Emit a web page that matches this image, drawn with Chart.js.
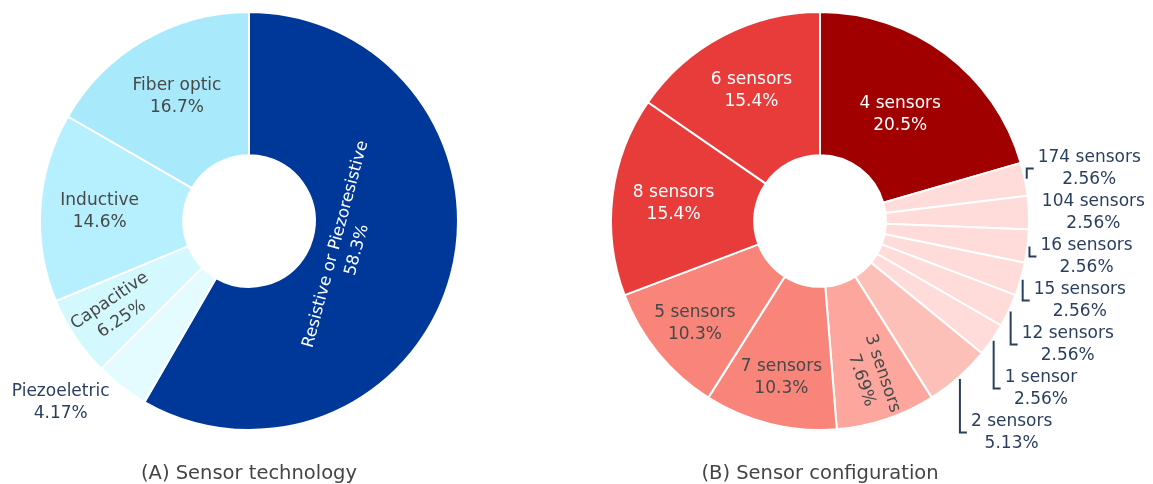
<!DOCTYPE html>
<html>
<head>
<meta charset="utf-8">
<script src="https://cdn.jsdelivr.net/npm/chart.js@4.4.1/dist/chart.umd.min.js"></script>
<style>
  html, body { margin: 0; padding: 0; background: #fff; }
  #wrap { position: relative; width: 1153px; height: 484px; overflow: hidden; }
  canvas { position: absolute; top: 0; }
  .caption {
    position: absolute; top: 461px; width: 400px; text-align: center;
    font: 19.5px "DejaVu Sans", Verdana, sans-serif; color: #444; line-height: 24px;
  }
</style>
</head>
<body>
<div id="wrap">
  <canvas id="techChart" width="576" height="484" style="left:0"></canvas>
  <canvas id="configChart" width="577" height="484" style="left:576px"></canvas>
  <div class="caption" style="left:49px">(A) Sensor technology</div>
  <div class="caption" style="left:620px">(B) Sensor configuration</div>
</div>
<script>
var techLabels = ['Resistive or Piezoresistive', 'Piezoeletric', 'Capacitive', 'Inductive', 'Fiber optic'];
var techCounts = [28, 2, 3, 7, 8];
var techColors = ['#00389a', '#e4fcff', '#d3f8fe', '#b6effd', '#a8eafc'];
var techText = ['tangential', 'outside', 'radial', 'h', 'h'];

var configLabels = ['4 sensors', '174 sensors', '104 sensors', '16 sensors', '15 sensors', '12 sensors',
    '1 sensor', '2 sensors', '3 sensors', '7 sensors', '5 sensors', '8 sensors', '6 sensors'];
var configCounts = [8, 1, 1, 1, 1, 1, 1, 2, 3, 4, 4, 6, 6];
var configColors = ['#a00000', '#ffdcda', '#ffdcda', '#ffdcda', '#ffdcda', '#ffdcda', '#ffdcda',
    '#fdc0b8', '#fca69d', '#f98479', '#f98479', '#e83c3b', '#e83c3b'];
var configText = ['h', 'outside', 'outside', 'outside', 'outside', 'outside', 'outside',
    'outside', 'radial', 'h', 'h', 'h', 'h'];

var FONT = '"DejaVu Sans", Verdana, sans-serif';
var LINE_H = 22;

function pct(v, total) {
    return (v / total * 100).toPrecision(3) + '%';
}

function isDark(hex) {
    var n = parseInt(hex.slice(1), 16);
    var c = [(n >> 16) & 255, (n >> 8) & 255, n & 255].map(function(v) {
        v /= 255;
        return v <= 0.03928 ? v / 12.92 : Math.pow((v + 0.055) / 1.055, 2.4);
    });
    return 0.2126 * c[0] + 0.7152 * c[1] + 0.0722 * c[2] < 0.3;
}

function flip(a) {
    while (a > Math.PI / 2) a -= Math.PI;
    while (a <= -Math.PI / 2) a += Math.PI;
    return a;
}

function drawLines(ctx, lines, x, y, rot) {
    ctx.save();
    ctx.translate(x, y);
    ctx.rotate(rot || 0);
    ctx.fillText(lines[0], 0, -LINE_H / 2);
    ctx.fillText(lines[1], 0, LINE_H / 2);
    ctx.restore();
}

// plotly-like slice labels: inside (flat / radial / tangential) or outside with connectors
var sliceLabels = {
    id: 'sliceLabels',
    afterDatasetsDraw: function(chart, args, opts) {
        var ctx = chart.ctx;
        var ds = chart.data.datasets[0];
        var total = ds.data.reduce(function(a, b) { return a + b; }, 0);
        var outside = [];
        var h = 2 * LINE_H;
        ctx.save();
        ctx.textAlign = 'center';
        ctx.textBaseline = 'middle';
        chart.getDatasetMeta(0).data.forEach(function(arc, i) {
            var p = arc.getProps(['x', 'y', 'startAngle', 'endAngle', 'innerRadius', 'outerRadius'], true);
            var mid = (p.startAngle + p.endAngle) / 2;
            var span = (p.endAngle - p.startAngle) * 180 / Math.PI;
            var lines = [chart.data.labels[i], pct(ds.data[i], total)];
            var mode = opts.modes[i];
            var size = mode === 'tangential' ? 16.5 : 17;
            ctx.font = size + 'px ' + FONT;
            var w = Math.max(ctx.measureText(lines[0]).width, ctx.measureText(lines[1]).width);
            if (mode === 'outside') {
                var R = p.outerRadius + 2;
                var px = Math.cos(mid) * R, py = Math.sin(mid) * R;
                var sx = px >= 0 ? 1 : -1, sy = py >= 0 ? 1 : -1;
                var y0 = p.y + py + sy * (h / 2) / (1 + (px * px) / (py * py));
                outside.push({
                    lines: lines, w: w, px: p.x + px, py: p.y + py, side: sx, upper: py < 0,
                    x: p.x + px + sx * (w / 2 + h / 4), y: y0, y0: y0
                });
                return;
            }
            ctx.fillStyle = isDark(ds.backgroundColor[i]) ? '#ffffff' : '#484848';
            var r, rot = 0;
            var ringMid = (p.innerRadius + p.outerRadius) / 2;
            if (mode === 'radial') {
                r = p.outerRadius - w / 2 - 4;
                rot = flip(mid);
            } else if (mode === 'tangential') {
                r = p.innerRadius + 35;
                rot = flip(mid + Math.PI / 2);
            } else {
                r = ringMid + Math.max(-4, Math.min(24, 24 - (span - 37) * 0.757));
            }
            drawLines(ctx, lines, p.x + Math.cos(mid) * r, p.y + Math.sin(mid) * r, rot);
        });

        [1, -1].forEach(function(side) {
            var list = outside.filter(function(o) { return o.side === side; })
                .sort(function(a, b) { return a.y0 - b.y0; });
            var upper = list.filter(function(o) { return o.upper; });
            var lower = list.filter(function(o) { return !o.upper; });
            for (var k = upper.length - 2; k >= 0; k--) {
                upper[k].y = Math.min(upper[k].y, upper[k + 1].y - h);
            }
            var prev = upper.length ? upper[upper.length - 1].y : -Infinity;
            lower.forEach(function(o) {
                o.y = Math.max(o.y, prev + h);
                prev = o.y;
            });
        });

        ctx.font = '17px ' + FONT;
        ctx.fillStyle = '#2a3f5f';
        ctx.strokeStyle = '#2a3f5f';
        ctx.lineWidth = 2;
        outside.forEach(function(o) {
            if (Math.abs(o.y - o.y0) > 2) {
                ctx.beginPath();
                ctx.moveTo(o.px, o.py);
                ctx.lineTo(o.px, o.y);
                ctx.lineTo(o.x - o.side * (o.w / 2 + 4), o.y);
                ctx.stroke();
            }
            drawLines(ctx, o.lines, o.x, o.y, 0);
        });
        ctx.restore();
    }
};

function makeDonut(id, labels, counts, colors, modes, padding) {
    return new Chart(document.getElementById(id).getContext('2d'), {
        type: 'doughnut',
        data: {
            labels: labels,
            datasets: [{
                data: counts,
                backgroundColor: colors,
                borderColor: '#ffffff',
                borderWidth: 2,
                hoverOffset: 0
            }]
        },
        options: {
            responsive: false,
            animation: false,
            cutout: '31.5%',
            layout: { padding: padding },
            plugins: {
                legend: { display: false },
                tooltip: { enabled: false },
                sliceLabels: { modes: modes }
            }
        },
        plugins: [sliceLabels]
    });
}

makeDonut('techChart', techLabels, techCounts, techColors, techText,
    { left: 39, top: 11, right: 117, bottom: 53 });
makeDonut('configChart', configLabels, configCounts, configColors, configText,
    { left: 34, top: 11, right: 123, bottom: 53 });
</script>
</body>
</html>
